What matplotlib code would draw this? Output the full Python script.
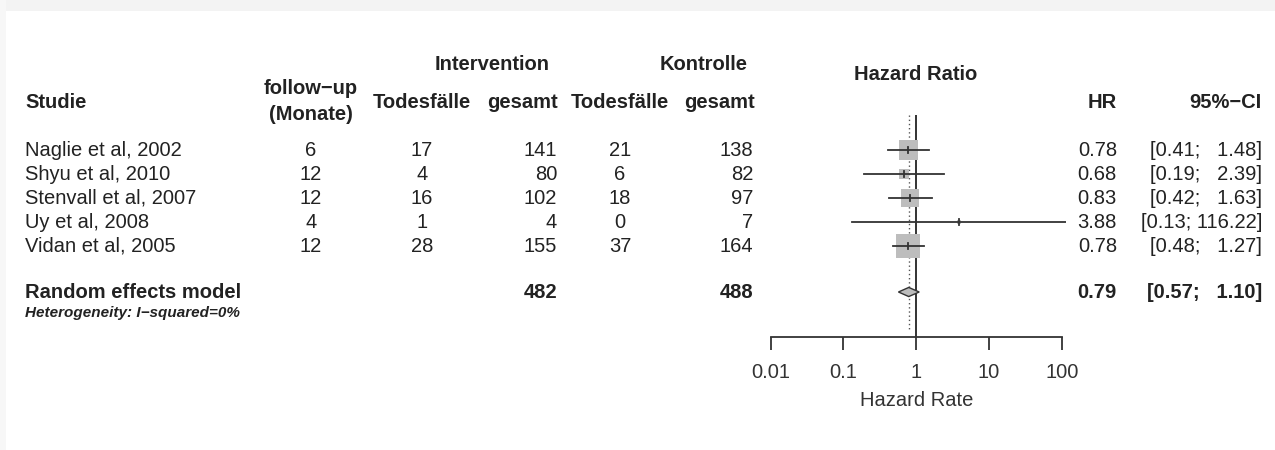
import numpy as np
import matplotlib
matplotlib.use("Agg")
import matplotlib.pyplot as plt
import matplotlib.transforms as mtransforms
from matplotlib.patches import Rectangle

plt.rcParams['font.family'] = ['Liberation Sans', 'DejaVu Sans']

# Data
studies = ['Naglie et al, 2002', 'Shyu et al, 2010', 'Stenvall et al, 2007',
           'Uy et al, 2008', 'Vidan et al, 2005']
follow_up = [6, 12, 12, 4, 12]
int_deaths = [17, 4, 16, 1, 28]
int_total = [141, 80, 102, 4, 155]
ctrl_deaths = [21, 6, 18, 0, 37]
ctrl_total = [138, 82, 97, 7, 164]
hr = [0.78, 0.68, 0.83, 3.88, 0.78]
ci_low = [0.41, 0.19, 0.42, 0.13, 0.48]
ci_high = [1.48, 2.39, 1.63, 116.22, 1.27]
weights = [26.5, 7.5, 23.9, 1.2, 40.9]   # estimated % weights (square sizes)

summary_label = 'Random effects model'
summary_hr = 0.79
summary_low = 0.57
summary_high = 1.10
summary_int_total = 482
summary_ctrl_total = 488
heterogeneity = 'Heterogeneity: I\u2212squared=0%'

ticks = [0.01, 0.1, 1, 10, 100]
tick_labels = ['0.01', '0.1', '1', '10', '100']

W, H = 1275, 450
fig = plt.figure(figsize=(W / 100, H / 100), dpi=100)

# faint card edge at the top / left
fig.patches.append(Rectangle((0, 1 - 11 / H), 1, 11 / H, transform=fig.transFigure,
                             facecolor='#f3f3f3', edgecolor='none', zorder=0))
fig.patches.append(Rectangle((0, 0), 6 / W, 1, transform=fig.transFigure,
                             facecolor='#f7f7f7', edgecolor='none', zorder=0))

# forest axes: pixel placement
px_left, px_right = 766.3, 1066.1
px_top, px_bottom = 115, 337
ax = fig.add_axes([px_left / W, 1 - px_bottom / H,
                   (px_right - px_left) / W, (px_bottom - px_top) / H])
ax.set_xscale('log')
ax.set_xlim(10 ** -2.06, 10 ** 2.06)
row_px = 24.0
def ry(p):
    return (p - 150) / row_px
ax.set_ylim(ry(px_bottom), ry(px_top))
ax.patch.set_alpha(0)
for s in ['left', 'top', 'right']:
    ax.spines[s].set_visible(False)
ax.spines['bottom'].set_bounds(0.01, 100)
ax.spines['bottom'].set_color('#333333')
ax.spines['bottom'].set_linewidth(1.3)
ax.set_yticks([])
ax.set_xticks(ticks)
ax.set_xticklabels(tick_labels)
ax.minorticks_off()
ax.tick_params(axis='x', direction='out', length=9, width=1.3, color='#333333',
               labelsize=14.5, labelcolor='#333333', pad=10)
ax.set_xlabel('Hazard Rate', fontsize=14.5, color='#333333', labelpad=6)

text_c = '#222222'
line_c = '#333333'
fs = 14.5

# reference lines
ax.axvline(1, color=line_c, lw=1.4, zorder=1)
ax.plot([summary_hr, summary_hr], [ry(px_top), ry(330)], ls=(0, (1, 2)),
        color='#555555', lw=1.0, zorder=1)

rows = np.arange(len(studies))
sq_scale = 3.75 / row_px  # rows per sqrt(weight)
for i in rows:
    side = np.sqrt(weights[i]) * sq_scale
    # square in log-x: width in pixels -> convert via decades
    dec = side * row_px / 72.8 / 2
    x0 = hr[i] / 10 ** dec
    x1 = hr[i] * 10 ** dec
    ax.add_patch(Rectangle((x0, i - side / 2), x1 - x0, side,
                           facecolor='#bdbdbd', edgecolor='none', zorder=2))
    ax.plot([ci_low[i], ci_high[i]], [i, i], color=line_c, lw=1.3, zorder=3)
    ax.plot([hr[i], hr[i]], [i - 0.12, i + 0.12], color=line_c, lw=1.3, zorder=3)

sy = ry(292)
dh = 0.19
ax.fill([summary_low, summary_hr, summary_high, summary_hr],
        [sy, sy - dh, sy, sy + dh], facecolor='#bdbdbd', edgecolor=line_c,
        lw=1.0, zorder=3)

# text columns in figure-x / data-y
tr = mtransforms.blended_transform_factory(fig.transFigure, ax.transData)
def put(xp, y, s, ha='left', **kw):
    kw.setdefault('fontsize', fs)
    kw.setdefault('color', text_c)
    ax.text(xp / W, y, s, ha=ha, va='center', transform=tr, clip_on=False, **kw)

# headers
put(25, ry(102), 'Studie', fontweight='bold')
put(311, ry(88), 'follow\u2212up', ha='center', fontweight='bold')
put(311, ry(115), '(Monate)', ha='center', fontweight='bold')
put(492, ry(65), 'Intervention', ha='center', fontweight='bold')
put(704, ry(65), 'Kontrolle', ha='center', fontweight='bold')
put(422, ry(102), 'Todesfälle', ha='center', fontweight='bold')
put(558, ry(102), 'gesamt', ha='right', fontweight='bold')
put(620, ry(102), 'Todesfälle', ha='center', fontweight='bold')
put(755, ry(102), 'gesamt', ha='right', fontweight='bold')
put(916, ry(75), 'Hazard Ratio', ha='center', fontweight='bold')
put(1117, ry(102), 'HR', ha='right', fontweight='bold')
put(1262, ry(102), '95%\u2212CI', ha='right', fontweight='bold')

for i in rows:
    put(25, i, studies[i])
    put(311, i, str(follow_up[i]), ha='center')
    put(422, i, str(int_deaths[i]), ha='center')
    put(557, i, str(int_total[i]), ha='right')
    put(620, i, str(ctrl_deaths[i]), ha='center')
    put(753, i, str(ctrl_total[i]), ha='right')
    put(1117, i, f'{hr[i]:.2f}', ha='right')
    put(1262, i, f'[{ci_low[i]:.2f}; {ci_high[i]:>6.2f}]', ha='right')

put(25, sy, summary_label, fontweight='bold')
put(557, sy, str(summary_int_total), ha='right', fontweight='bold')
put(753, sy, str(summary_ctrl_total), ha='right', fontweight='bold')
put(1117, sy, f'{summary_hr:.2f}', ha='right', fontweight='bold')
put(1262, sy, f'[{summary_low:.2f}; {summary_high:>6.2f}]', ha='right', fontweight='bold')
put(25, ry(313), heterogeneity, fontsize=11, fontstyle='italic', fontweight='bold')

fig.savefig('out.png', dpi=100, facecolor='white')
